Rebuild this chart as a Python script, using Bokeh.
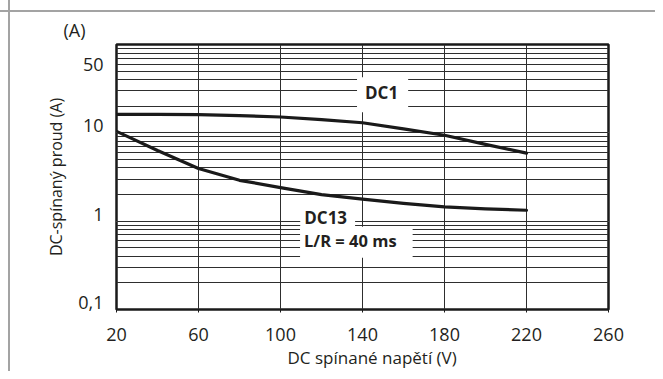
from bokeh.plotting import figure
from bokeh.models import Range1d, FixedTicker, Label, LogAxis, LogScale, Grid, Title
from bokeh.embed import file_html
from bokeh.resources import INLINE

# ---- data ----
voltage = [20, 40, 60, 80, 100, 120, 140, 160, 180, 200, 220]
dc1_current = [16.2, 16.2, 16.1, 15.7, 15.1, 14.1, 13.0, 11.1, 9.4, 7.4, 5.9]
dc13_current = [10.4, 6.3, 3.94, 2.9, 2.4, 2.0, 1.78, 1.59, 1.45, 1.38, 1.33]

x_ticks = [20, 60, 100, 140, 180, 220, 260]
y_ticks = [0.1, 1, 10, 50]
y_tick_labels = ["0,1", "1", "10", "50"]
y_grid_major = [0.1, 1, 10, 100]
y_grid_minor = [m * d for d in (0.1, 1, 10) for m in range(2, 10)]

FONT = "Open Sans"
TXT = "#231f20"
LINE = "#1a1a1a"
GRID = "#2e2e2e"
FRAME_GREY = "#a3a3a3"

x0, x1 = 20, 260
y0, y1 = 0.1, 100

p = figure(width=655, height=371,
           x_range=Range1d(x0, x1), y_range=Range1d(y0, y1),
           y_axis_type="log", y_axis_location=None,
           output_backend="svg", toolbar_location=None,
           min_border_left=116, min_border_right=47,
           min_border_top=44, min_border_bottom=62,
           border_fill_color=None, background_fill_color="white",
           outline_line_color=LINE, outline_line_width=2.5)

# light grey page frame (top and left edges), drawn as full-size gradients
G = FRAME_GREY
p.styles = {
    "background": (
        "linear-gradient(to right, white 8px, transparent 8px) top left / 100% 10px no-repeat, "
        f"linear-gradient(to right, transparent 8px, {G} 8px, {G} 10px, transparent 10px), "
        f"linear-gradient(to bottom, transparent 10px, {G} 10px, {G} 12px, transparent 12px), "
        "white"
    ),
}

# x axis
p.xaxis.ticker = FixedTicker(ticks=x_ticks, minor_ticks=[])
p.xaxis.axis_line_color = None
p.xaxis.major_tick_in = 0
p.xaxis.major_tick_out = 3
p.xaxis.major_tick_line_color = LINE
p.xaxis.major_label_standoff = 15
p.xaxis.major_label_text_font = FONT
p.xaxis.major_label_text_font_size = "18px"
p.xaxis.major_label_text_color = TXT

# x axis title (placed slightly right of centre, as in the reference)
p.add_layout(Title(text="DC spínané napětí (V)", align="left", offset=171, standoff=0,
                   text_font=FONT, text_font_size="17px", text_font_style="normal",
                   text_color=TXT), "below")

# y axis: tick labels sit a little above their grid lines in the reference
lift = 10 ** (7 / 88.5)
p.extra_y_ranges = {"labels": Range1d(y0 / lift, y1 / lift)}
p.extra_y_scales = {"labels": LogScale()}
yaxis = LogAxis(y_range_name="labels",
                ticker=FixedTicker(ticks=y_ticks, minor_ticks=[]),
                major_label_overrides=dict(zip(y_ticks, y_tick_labels)),
                axis_line_color=None, major_tick_line_color=None,
                minor_tick_line_color=None, major_tick_in=0, major_tick_out=0,
                major_label_standoff=13,
                major_label_text_font=FONT, major_label_text_font_size="18px",
                major_label_text_color=TXT)
p.add_layout(yaxis, "left")
p.add_layout(Title(text="DC-spínaný proud (A)", align="center", offset=18, standoff=18,
                   text_font=FONT, text_font_size="16px", text_font_style="normal",
                   text_color=TXT), "left")

# unit above the axis
p.title.text = "(A)"
p.title.align = "left"
p.title.offset = -53
p.title.standoff = 6
p.title.text_font = FONT
p.title.text_font_size = "18px"
p.title.text_font_style = "normal"
p.title.text_color = TXT

# grids
p.xgrid.ticker = FixedTicker(ticks=x_ticks, minor_ticks=[])
p.xgrid.grid_line_color = GRID
p.xgrid.grid_line_width = 1
ygrid = Grid(dimension=1, ticker=FixedTicker(ticks=y_grid_major, minor_ticks=y_grid_minor),
             grid_line_color=GRID, grid_line_width=1,
             minor_grid_line_color=GRID, minor_grid_line_width=1)
p.add_layout(ygrid)

# curves
p.line(voltage, dc1_current, line_color=LINE, line_width=3.2, line_join="round", line_cap="round")
p.line(voltage, dc13_current, line_color=LINE, line_width=3.2, line_join="round", line_cap="round")

# curve labels with white boxes (anchor = centre of padded box)
p.add_layout(Label(x=149.8, y=26.9, text="DC1",
                   text_align="center", text_baseline="middle",
                   text_font=FONT, text_font_size="17px", text_font_style="bold",
                   text_color=TXT, background_fill_color="white",
                   padding=dict(left=8, right=10, top=4, bottom=8)))
p.add_layout(Label(x=137.0, y=0.579, text="L/R = 40 ms",
                   text_align="center", text_baseline="middle",
                   text_font=FONT, text_font_size="16.5px", text_font_style="bold",
                   text_color=TXT, background_fill_color="white",
                   padding=dict(left=4, right=16, top=2, bottom=6)))
p.add_layout(Label(x=123.0, y=1.14, text="DC13",
                   text_align="center", text_baseline="middle",
                   text_font=FONT, text_font_size="17px", text_font_style="bold",
                   text_color=TXT, background_fill_color="white",
                   padding=dict(left=4, right=8, top=4, bottom=2)))

open("out.html", "w").write(file_html(p, INLINE))
